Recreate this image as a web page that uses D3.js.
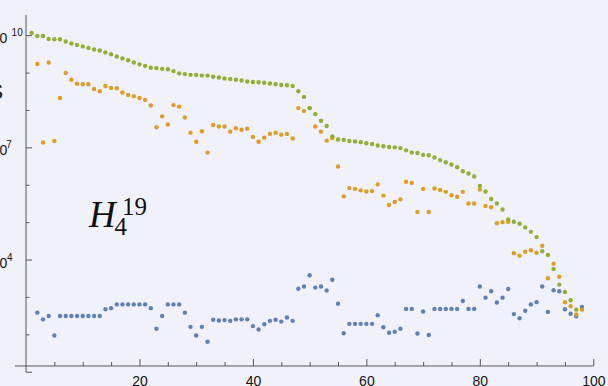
<!DOCTYPE html>
<html>
<head>
<meta charset="utf-8">
<script src="https://cdn.jsdelivr.net/npm/d3@7"></script>
<style>
  html, body { margin: 0; padding: 0; background: #f1f1fc; }
  svg { display: block; }
</style>
</head>
<body>
<svg id="chart" width="608" height="386"></svg>
<script>
// ---- data (log10 of each value; green starts at n = 1, orange/blue at n = 2) ----
const greenStart = 1;
const greenLog10 = [
  10.06, 9.98, 9.98, 9.90, 9.89, 9.89, 9.83, 9.78, 9.74, 9.70,
  9.66, 9.62, 9.59, 9.54, 9.49, 9.43, 9.38, 9.33, 9.27, 9.22,
  9.18, 9.13, 9.12, 9.10, 9.09, 9.04, 8.98, 8.96, 8.94, 8.94,
  8.92, 8.92, 8.89, 8.87, 8.84, 8.83, 8.81, 8.79, 8.76, 8.75,
  8.74, 8.73, 8.71, 8.69, 8.67, 8.66, 8.64, 8.50, 8.35, 8.05,
  7.89, 7.71, 7.57, 7.29, 7.21, 7.20, 7.17, 7.16, 7.14, 7.11,
  7.09, 7.05, 7.03, 7.01, 7.00, 6.98, 6.92, 6.86, 6.85, 6.80,
  6.79, 6.73, 6.66, 6.60, 6.54, 6.47, 6.36, 6.30, 6.22, 5.97,
  5.82, 5.62, 5.50, 5.34, 5.07, 5.01, 4.96, 4.86, 4.74, 4.60,
  4.22, 4.12, 3.75, 3.33, 3.13, 2.91, 2.66
];

const orangeStart = 2;
const orangeLog10 = [
  9.23, 7.13, 9.27, 7.17, 8.32, 8.99, 8.81, 8.70, 8.69,
  8.69, 8.56, 8.50, 8.64, 8.59, 8.58, 8.47, 8.40, 8.37, 8.32,
  8.27, 8.12, 7.54, 7.83, 7.61, 8.13, 8.09, 7.80, 7.39, 7.15,
  7.43, 6.86, 7.60, 7.56, 7.56, 7.42, 7.51, 7.47, 7.50, 7.28,
  7.15, 7.26, 7.36, 7.39, 7.34, 7.36, 7.24, 8.05, 7.97, 8.05,
  7.56, 7.42, 7.18, 7.25, 6.49, 5.69, 5.91, 5.89, 5.85, 5.82,
  5.83, 6.01, 5.71, 5.46, 5.54, 5.61, 6.08, 6.05, 5.27, 5.89,
  5.27, 5.90, 5.86, 5.81, 5.72, 5.68, 5.81, 5.50, 5.50, 5.87,
  5.43, 5.40, 4.97, 5.00, 5.01, 4.17, 4.10, 4.21, 4.25, 4.18,
  4.37, 3.50, 3.89, 3.54, 2.86, 2.75, 2.53, 2.66
];

const blueStart = 2;
const blueLog10 = [
  2.58, 2.40, 2.49, 1.97, 2.49, 2.49, 2.49, 2.49, 2.49,
  2.49, 2.49, 2.49, 2.67, 2.70, 2.80, 2.80, 2.80, 2.80, 2.80,
  2.80, 2.70, 2.15, 2.49, 2.80, 2.80, 2.80, 2.58, 2.20, 1.97,
  2.20, 1.80, 2.39, 2.37, 2.38, 2.36, 2.40, 2.40, 2.40, 2.22,
  2.13, 2.27, 2.36, 2.39, 2.34, 2.45, 2.36, 3.22, 3.28, 3.58,
  3.25, 3.28, 3.17, 3.46, 2.82, 2.03, 2.28, 2.28, 2.28, 2.28,
  2.28, 2.51, 2.19, 2.04, 2.07, 2.15, 2.68, 2.68, 2.02, 2.61,
  1.98, 2.68, 2.68, 2.68, 2.68, 2.68, 2.89, 2.68, 2.68, 3.28,
  2.98, 3.15, 2.85, 2.98, 3.21, 2.54, 2.43, 2.63, 2.80, 2.86,
  3.28, 2.60, 3.18, 3.15, 2.67, 2.55, 2.48, 2.73
];

// ---- ticks ----
const xMajorTicks = [20, 40, 60, 80, 100];
const xMinorTicks = [5, 10, 15, 25, 30, 35, 45, 50, 55, 65, 70, 75, 85, 90, 95];
const yMajorTicks = [1e1, 1e4, 1e7, 1e10];
const yMinorTicks = [1e2, 1e3, 1e5, 1e6, 1e8, 1e9];
const yLabels = [
  { value: 1e4, base: "10", exp: "4" },
  { value: 1e7, base: "10", exp: "7" },
  { value: 1e10, base: "10", exp: "10" }
];

const colors = { blue: "#5e81b5", orange: "#e19c24", green: "#8fb032" };
const axisColor = "#555";

// ---- scales ----
const svg = d3.select("#chart");
const x = d3.scaleLinear().domain([0, 100]).range([26, 593.3]);
const y = d3.scaleLog().domain([1e1, 1e10]).range([371.7, 35.2]);
const xAxisY = 366;           // pixel row of the horizontal axis
const xAxisFrom = -1.95;      // horizontal axis starts a bit left of x = 0
const yAxisTop = Math.pow(10, 10.54);

function series(start, logs) {
  return logs.map((e, i) => ({ n: start + i, v: Math.pow(10, e) }));
}

// ---- axes ----
const gAxes = svg.append("g");

gAxes.append("line")
  .attr("x1", x(xAxisFrom)).attr("x2", x(100))
  .attr("y1", xAxisY).attr("y2", xAxisY)
  .attr("stroke", axisColor).attr("stroke-width", 1);

gAxes.append("line")
  .attr("x1", x(0)).attr("x2", x(0))
  .attr("y1", y(yAxisTop)).attr("y2", y(1e1) + 0.5)
  .attr("stroke", axisColor).attr("stroke-width", 1);

const xMinor = gAxes.append("g")
  .attr("transform", `translate(0,${xAxisY})`)
  .call(d3.axisBottom(x).tickValues(xMinorTicks).tickSizeInner(-4).tickSizeOuter(0).tickFormat(""));
const xMajor = gAxes.append("g")
  .attr("transform", `translate(0,${xAxisY})`)
  .call(d3.axisBottom(x).tickValues(xMajorTicks).tickSizeInner(-7).tickSizeOuter(0).tickPadding(10.5));

const yMinor = gAxes.append("g")
  .attr("transform", `translate(${x(0)},0)`)
  .call(d3.axisRight(y).tickValues(yMinorTicks).tickSizeInner(3.5).tickSizeOuter(0).tickFormat(""));
const yMajor = gAxes.append("g")
  .attr("transform", `translate(${x(0)},0)`)
  .call(d3.axisRight(y).tickValues(yMajorTicks).tickSizeInner(6).tickSizeOuter(0).tickFormat(""));

[xMinor, xMajor, yMinor, yMajor].forEach(g => {
  g.select(".domain").remove();
  g.selectAll(".tick line").attr("stroke", axisColor).attr("stroke-width", 1);
});
xMajor.selectAll(".tick text")
  .attr("font-family", "'Liberation Sans', Arial, sans-serif")
  .attr("font-size", 14)
  .attr("fill", "#111");

// y tick labels: base "10" with a raised exponent
const expX = { "4": 7.0, "7": 6.3, "10": 11.6 };
const gYL = svg.append("g")
  .attr("font-family", "'Liberation Sans', Arial, sans-serif")
  .attr("fill", "#111");
yLabels.forEach(d => {
  const py = y(d.value);
  gYL.append("text").attr("x", -8.4).attr("y", py + 8).attr("font-size", 14).text(d.base);
  gYL.append("text").attr("x", expX[d.exp]).attr("y", py + 1).attr("font-size", 10).text(d.exp);
});

// axis title, mostly outside the left edge
svg.append("text")
  .attr("x", 3.2).attr("y", 99)
  .attr("text-anchor", "end")
  .attr("font-family", "'Liberation Sans', Arial, sans-serif")
  .attr("font-size", 22)
  .attr("fill", "#111")
  .text("S");

// ---- points ----
const layers = [
  { data: series(blueStart, blueLog10), color: colors.blue },
  { data: series(orangeStart, orangeLog10), color: colors.orange },
  { data: series(greenStart, greenLog10), color: colors.green }
];
layers.forEach(layer => {
  svg.append("g").selectAll("circle")
    .data(layer.data)
    .join("circle")
    .attr("cx", d => x(d.n))
    .attr("cy", d => y(d.v))
    .attr("r", 2.2)
    .attr("fill", layer.color);
});

// ---- plot label H_4^19 ----
const gLab = svg.append("g")
  .attr("font-family", "'Liberation Serif', 'Times New Roman', serif")
  .attr("fill", "#111");
gLab.append("text").attr("x", 89).attr("y", 226.7).attr("font-size", 37)
  .attr("font-style", "italic").text("H");
gLab.append("text").attr("x", 114.5).attr("y", 235).attr("font-size", 25).text("4");
gLab.append("text").attr("x", 122).attr("y", 214.5).attr("font-size", 25).text("19");
</script>
</body>
</html>
